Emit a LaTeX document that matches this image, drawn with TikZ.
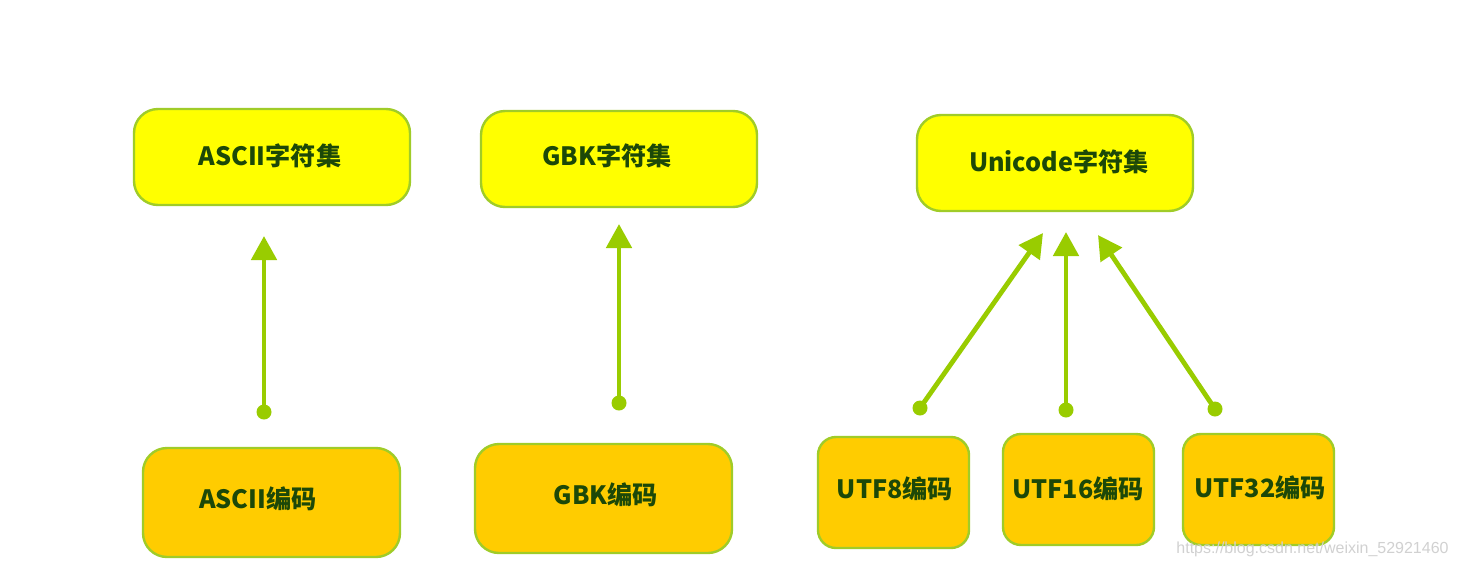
\documentclass[tikz,border=0pt]{standalone}
\usepackage{fontspec}
\newfontfamily\cjk{Noto Sans CJK SC}
\newfontfamily\wm{Liberation Sans}
\usetikzlibrary{arrows.meta}
\definecolor{topfill}{RGB}{255,255,0}
\definecolor{botfill}{RGB}{255,204,0}
\definecolor{edge}{RGB}{160,204,40}
\definecolor{txt}{RGB}{28,72,8}
\definecolor{arr}{RGB}{153,204,0}
\tikzset{
  box/.style={draw=edge, line width=1.2pt, rounded corners=12pt, inner sep=0pt, outer sep=0pt},
  topbox/.style={box, fill=topfill, minimum width=138pt, minimum height=48pt},
  botbox/.style={box, fill=botfill, minimum width=128.5pt, minimum height=54.5pt},
  utfbox/.style={box, fill=botfill, minimum width=75.5pt, minimum height=55.5pt, rounded corners=9pt},
  lbl/.style={inner sep=0pt, font=\cjk\bfseries\fontsize{12.6}{14}\selectfont, text=txt},
  link/.style={draw=arr, line width=2.4pt, -{Triangle[length=12pt,width=12.5pt]}},
  dot/.style={circle, fill=arr, inner sep=0pt, minimum size=7.5pt}
}
\begin{document}
\begin{tikzpicture}[x=0.5pt,y=-0.5pt]
\useasboundingbox (0,0) rectangle (1457,568);
\fill[white] (0,0) rectangle (1457,568);
% top boxes
\node[topbox] (ascii) at (272,157) {};
\node[topbox] (gbk) at (619,159) {};
\node[topbox] (uni) at (1055,163) {};
\node[lbl] (ascii-t) at (270,156) {ASCII字符集};
\node[lbl] (gbk-t) at (607,156) {GBK字符集};
\node[lbl] (uni-t) at (1059,162) {Unicode字符集};
% bottom boxes
\node[botbox] (asciienc) at (271.5,502.5) {};
\node[botbox] (gbkenc) at (603.5,498.5) {};
\node[utfbox] (utf8) at (893.5,492.5) {};
\node[utfbox] (utf16) at (1078.5,489.5) {};
\node[utfbox] (utf32) at (1258.5,489.5) {};
\node[lbl] (asciienc-t) at (258,499) {ASCII编码};
\node[lbl] (gbkenc-t) at (606,495) {GBK编码};
\node[lbl] (utf8-t) at (895,489) {UTF8编码};
\node[lbl] (utf16-t) at (1078,489) {UTF16编码};
\node[lbl] (utf32-t) at (1260,488) {UTF32编码};
% arrow ends
\coordinate (a1s) at (264,412); \coordinate (a1t) at (264,236);
\coordinate (a2s) at (619,403); \coordinate (a2t) at (619,224);
\coordinate (a3s) at (920,408); \coordinate (a3t) at (1043,233);
\coordinate (a4s) at (1066,410); \coordinate (a4t) at (1066,232);
\coordinate (a5s) at (1215,409); \coordinate (a5t) at (1098,235);
\foreach \s/\t in {a1s/a1t,a2s/a2t,a3s/a3t,a4s/a4t,a5s/a5t}{
  \draw[link] (\s) -- (\t);
  \node[dot] at (\s) {};
}
% watermark
\node[anchor=east, text=black!18, font=\wm\fontsize{8}{9}\selectfont, inner sep=0pt] (wmk) at (1449,549) {https://blog.csdn.net/weixin\_52921460};
\end{tikzpicture}
\end{document}
